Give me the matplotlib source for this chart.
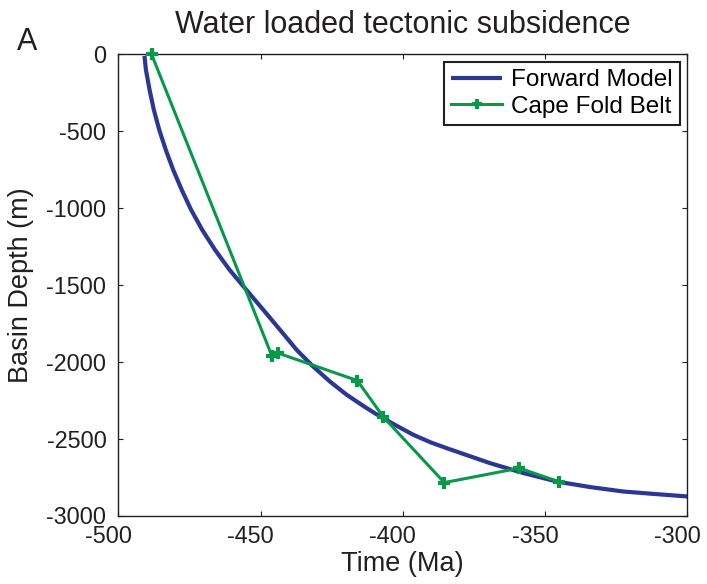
import numpy as np
import matplotlib.pyplot as plt
import matplotlib.transforms as mtransforms

plt.rcParams['font.family'] = ['Liberation Sans', 'DejaVu Sans']
plt.rcParams['axes.unicode_minus'] = False

# Forward model curve (Ma, m)
model_time = [-490.8, -490.3, -489.0, -487.5, -485.6, -483.3, -480.7, -477.7,
              -474.4, -470.5, -466.0, -460.9, -455.0, -449.0, -442.8, -437.3,
              -431.5, -425.6, -419.7, -413.9, -408.0, -402.1, -396.3, -390.4,
              -384.6, -369.4, -357.6, -345.9, -334.2, -322.5, -310.8, -300.0]
model_depth = [-10, -100, -232, -362, -492, -622, -752, -882,
               -1012, -1142, -1272, -1402, -1532, -1663, -1800, -1923,
               -2031, -2129, -2215, -2287, -2356, -2417, -2475, -2523,
               -2562, -2659, -2724, -2779, -2815, -2844, -2861, -2876]

# Cape Fold Belt backstripped subsidence
cfb_time = [-488.3, -446.0, -443.8, -416.0, -406.8, -385.4, -359.0, -345.2]
cfb_depth = [0, -1962, -1944, -2122, -2360, -2786, -2692, -2780]

BLUE = '#2b3795'
GREEN = '#07994a'
TEXT = '#231f20'

fig = plt.figure(figsize=(7.07, 5.84), dpi=100)
ax = fig.add_axes([118.3 / 707, 1 - 515.5 / 584, 569 / 707, 461.2 / 584])

ax.plot(model_time, model_depth, color=BLUE, linewidth=3.0,
        solid_capstyle='butt', solid_joinstyle='round',
        label='Forward Model', zorder=2)
ax.plot(cfb_time, cfb_depth, color=GREEN, linewidth=2.2, marker='+',
        markersize=9, markeredgewidth=3, label='Cape Fold Belt', zorder=3,
        clip_on=False)

ax.set_xlim(-500, -300)
ax.set_ylim(-3000, 0)
ax.set_xticks(np.arange(-500, -299, 50))
ax.set_yticks(np.arange(-3000, 1, 500))

ax.tick_params(direction='in', length=3.6, width=0.8, top=True, right=True,
               labelsize=16.8, labelcolor=TEXT, color=TEXT)
ax.tick_params(axis='x', pad=7)
ax.tick_params(axis='y', pad=8.5)
for s in ax.spines.values():
    s.set_linewidth(1.0)
    s.set_color(TEXT)

# the x tick labels sit a little left of their ticks in the original
shift = mtransforms.ScaledTranslation(-10 / 100, 0, fig.dpi_scale_trans)
for lbl in ax.get_xticklabels():
    lbl.set_transform(lbl.get_transform() + shift)

ax.set_xlabel('Time (Ma)', fontsize=19.5, color=TEXT)
ax.xaxis.label.set_va('baseline')
ax.xaxis.set_label_coords(0.5, (515.5 - 570.7) / 461.2)
ax.set_ylabel('Basin Depth (m)', fontsize=19.5, color=TEXT)
ax.yaxis.label.set_va('center')
ax.yaxis.set_label_coords((21 - 118.3) / 569, 0.5)

fig.text(0.5697, 1 - 33.3 / 584, 'Water loaded tectonic subsidence',
         fontsize=22, ha='center', va='baseline', color=TEXT)
fig.text(17 / 707, 1 - 50 / 584, 'A', fontsize=22, ha='left', va='baseline',
         color=TEXT)

leg = ax.legend(loc='upper right', bbox_to_anchor=(0.987, 0.983),
                borderaxespad=0, fontsize=17.5, fancybox=False,
                edgecolor=TEXT, framealpha=1, handlelength=2.1,
                handletextpad=0.35, borderpad=0.3, labelspacing=0.18)
leg.get_frame().set_linewidth(1.5)
for h in leg.legend_handles:
    h.set_markersize(7)

fig.savefig('out.png', dpi=100)
